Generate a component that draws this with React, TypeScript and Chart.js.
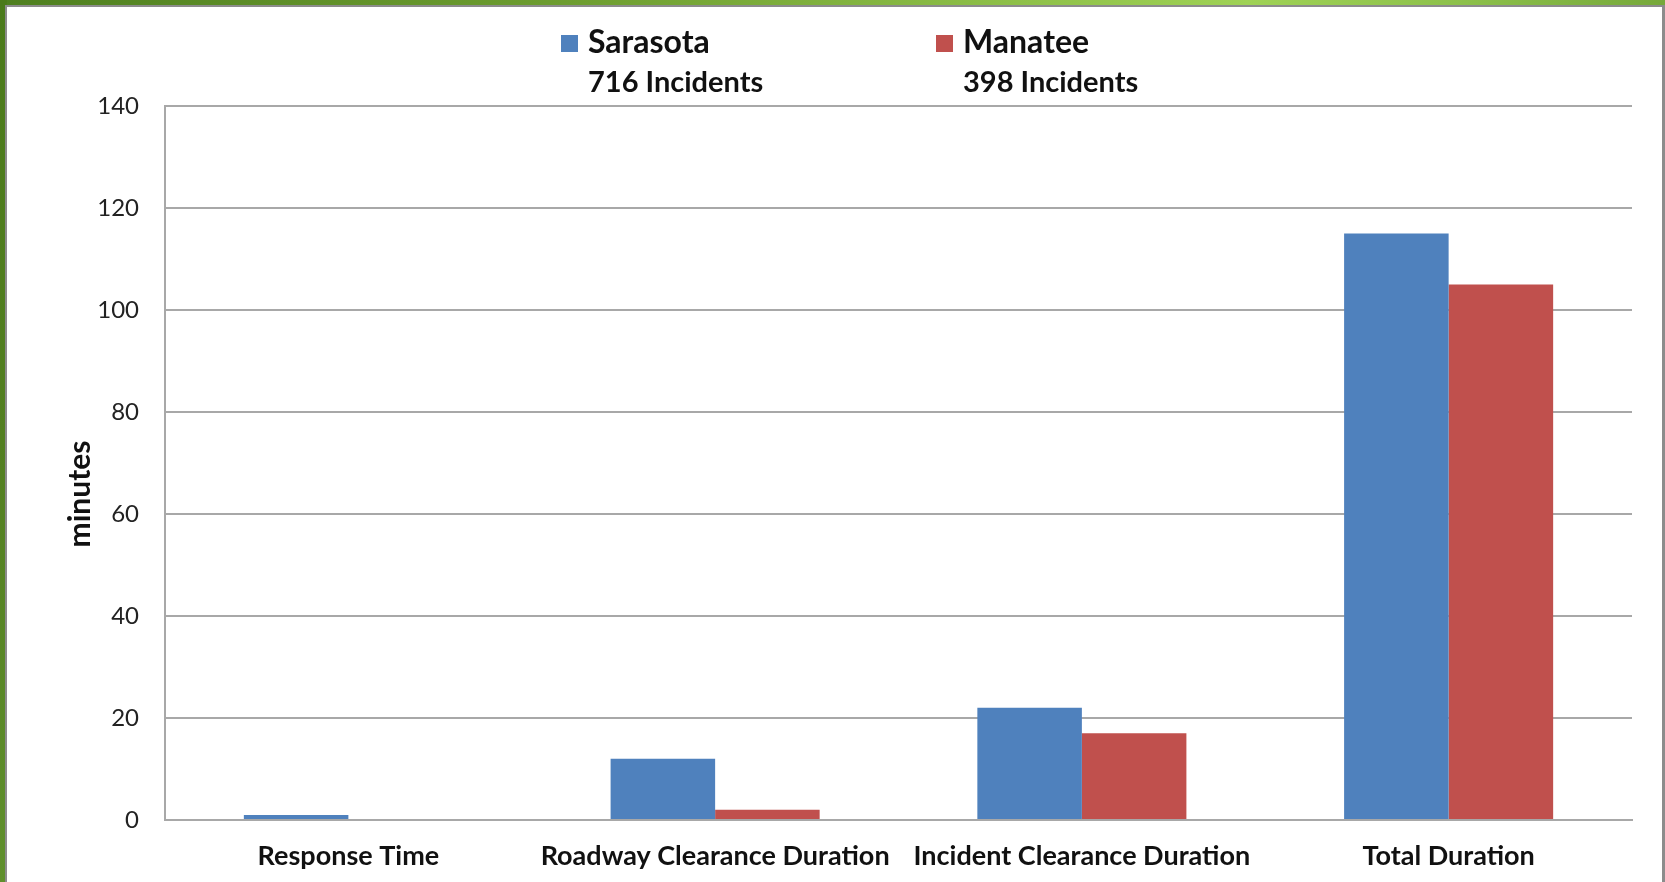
import React, { useEffect, useRef } from "react";
import { Chart, registerables } from "chart.js";

Chart.register(...registerables);

const categories = ["Response Time", "Roadway Clearance Duration", "Incident Clearance Duration", "Total Duration"];
const seriesNames = ["Sarasota", "Manatee"];
const incidentCounts = ["716 Incidents", "398 Incidents"];
const sarasotaValues = [1, 12, 22, 115];
const manateeValues = [0, 2, 17, 105];
const seriesColors = ["#4f81bd", "#c0504d"];
const yAxisTitle = "minutes";

const FONT = "Lato, 'Open Sans', sans-serif";

const overlayPlugin = {
  id: "overlayText",
  afterDraw(chart: any) {
    const ctx = chart.ctx;
    ctx.save();
    const legendX = [561, 936];
    chart.data.datasets.forEach((ds: any, i: number) => {
      const x = legendX[i];
      ctx.fillStyle = ds.backgroundColor;
      ctx.fillRect(x, 35, 17, 17);
      ctx.fillStyle = "#111";
      ctx.textBaseline = "middle";
      ctx.textAlign = "left";
      ctx.font = `bold 32px ${FONT}`;
      ctx.fillText(ds.label, x + 27, 43);
      ctx.font = `bold 29px ${FONT}`;
      ctx.fillText(incidentCounts[i], x + 27, 83);
    });
    ctx.translate(80, 494);
    ctx.rotate(-Math.PI / 2);
    ctx.font = `bold 30px ${FONT}`;
    ctx.textAlign = "center";
    ctx.textBaseline = "middle";
    ctx.fillStyle = "#111";
    ctx.fillText(yAxisTitle, 0, 0);
    ctx.restore();
  },
};

export default function App() {
  const ref = useRef<HTMLCanvasElement>(null);
  useEffect(() => {
    document.body.style.margin = "0";
    const chart = new Chart(ref.current!, {
      type: "bar",
      data: {
        labels: categories,
        datasets: [
          { label: seriesNames[0], data: sarasotaValues, backgroundColor: seriesColors[0] },
          { label: seriesNames[1], data: manateeValues, backgroundColor: seriesColors[1] },
        ],
      },
      options: {
        animation: false,
        responsive: false,
        devicePixelRatio: 1,
        layout: { padding: { top: 106, right: 33, left: 0, bottom: 0 } },
        plugins: { legend: { display: false }, tooltip: { enabled: false } },
        datasets: { bar: { barPercentage: 1, categoryPercentage: 0.57 } },
        scales: {
          x: {
            grid: { display: false, drawTicks: false },
            border: { display: true, color: "#a8a8a8", width: 2 },
            ticks: { color: "#111", font: { family: FONT, size: 27, weight: "bold" }, padding: 20, maxRotation: 0, autoSkip: false },
            afterFit: (axis: any) => { axis.height = 62; },
          },
          y: {
            min: 0,
            max: 140,
            ticks: { stepSize: 20, color: "#222", font: { family: FONT, size: 24 }, padding: 26 },
            grid: { color: "#a8a8a8", lineWidth: 2, drawTicks: false },
            border: { display: true, color: "#a8a8a8", width: 2 },
            afterFit: (axis: any) => { axis.width = 165; },
          },
        },
      },
      plugins: [overlayPlugin],
    });
    return () => chart.destroy();
  }, []);

  return (
    <div style={{ position: "fixed", left: 0, top: 0, width: 1665, height: 882, overflow: "hidden",
      background: "linear-gradient(90deg, #4e7f1f 0%, #6e9e30 35%, #9fd255 75%, #8cc04a 88%, #76a83a 100%)" }}>
      <div style={{ position: "absolute", left: 0, top: 0, width: 7, height: 882,
        background: "linear-gradient(180deg, #4a7a1a 0%, #527f20 50%, #5f8f2c 100%)" }} />
      <div style={{ position: "absolute", left: 5, top: 5, width: 1660, height: 877, boxSizing: "border-box",
        background: "#fff", borderLeft: "2px solid #8c8c8c", borderTop: "2px solid #8c8c8c", borderRight: "3px solid #8c8c8c" }} />
      <canvas ref={ref} width={1665} height={882} style={{ position: "absolute", left: 0, top: 0, width: 1665, height: 882 }} />
    </div>
  );
}
